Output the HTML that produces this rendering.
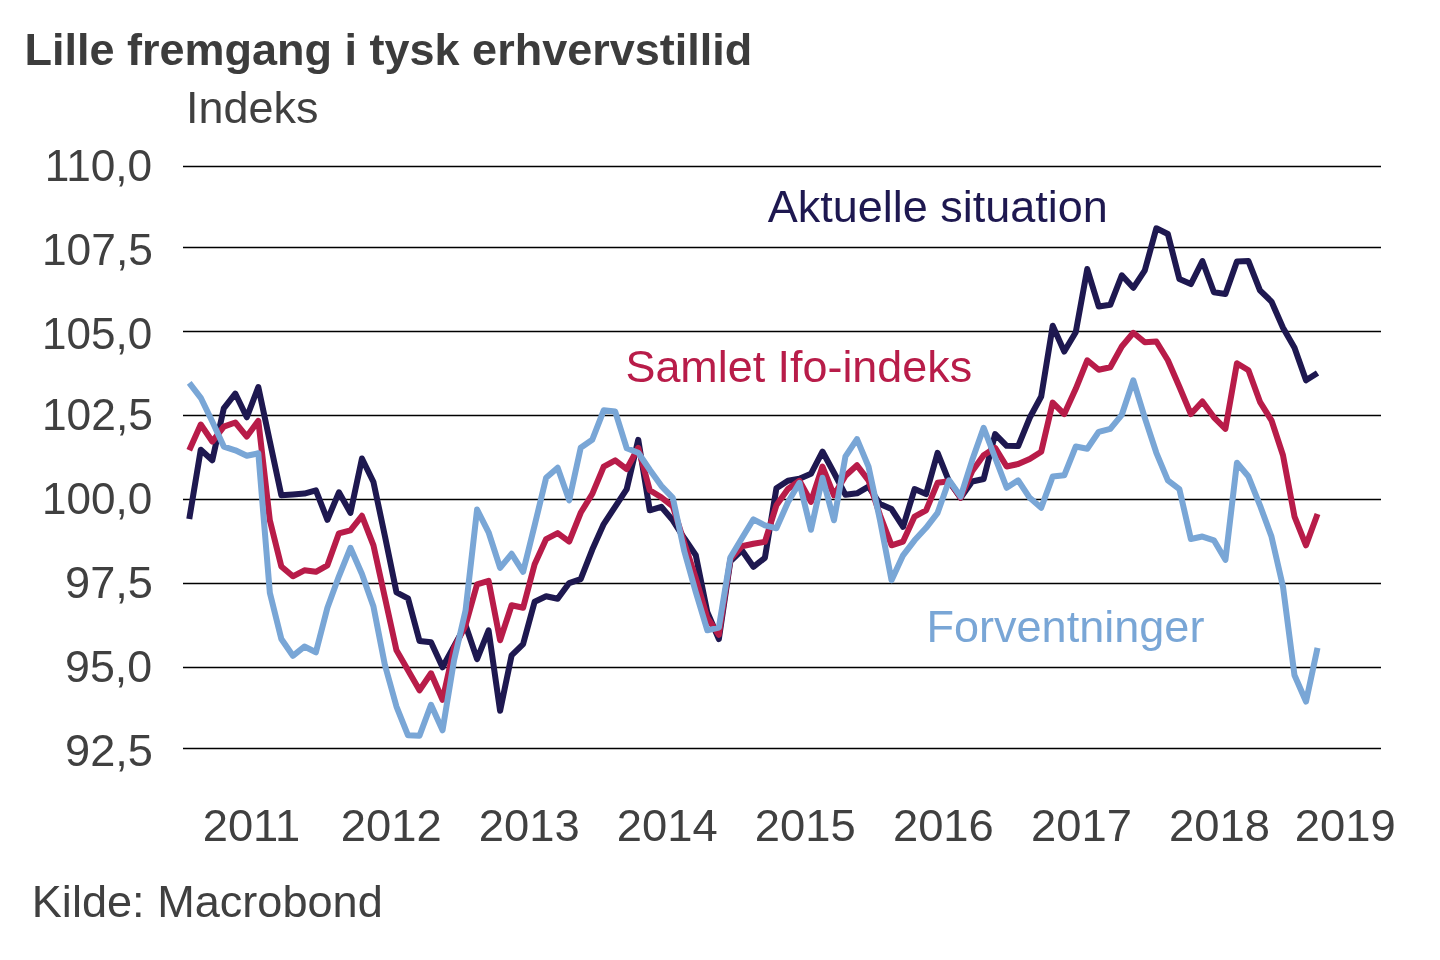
<!DOCTYPE html>
<html lang="da"><head><meta charset="utf-8"><title>Lille fremgang i tysk erhvervstillid</title>
<style>html,body{margin:0;padding:0;background:#fff;}body{width:1440px;height:960px;overflow:hidden;}svg{display:block;will-change:transform;}text{font-family:"Liberation Sans",Arial,Helvetica,sans-serif;}</style>
</head><body>
<svg width="1440" height="960" viewBox="0 0 1440 960">
<rect width="1440" height="960" fill="#ffffff"/>
<g stroke="#000000" stroke-width="1.5" fill="none">
<line x1="183" y1="166.5" x2="1381" y2="166.5"/>
<line x1="183" y1="247.5" x2="1381" y2="247.5"/>
<line x1="183" y1="331.5" x2="1381" y2="331.5"/>
<line x1="183" y1="415.5" x2="1381" y2="415.5"/>
<line x1="183" y1="499.5" x2="1381" y2="499.5"/>
<line x1="183" y1="583.5" x2="1381" y2="583.5"/>
<line x1="183" y1="667.5" x2="1381" y2="667.5"/>
<line x1="183" y1="748.5" x2="1381" y2="748.5"/>
</g>
<g fill="none" stroke-width="6" stroke-linejoin="round" stroke-linecap="butt">
<polyline stroke="#1e1850" points="189.25,519.05 200.76,449.70 212.28,460.30 223.79,408.30 235.30,393.55 246.81,417.30 258.33,387.05 269.84,441.30 281.35,495.30 292.87,494.55 304.38,493.55 315.89,490.30 327.41,519.80 338.92,492.30 350.43,512.80 361.94,458.55 373.46,482.05 384.97,536.30 396.48,592.30 408.00,598.30 419.51,641.00 431.02,642.30 442.54,667.30 454.05,646.30 465.56,625.30 477.07,659.05 488.59,630.30 500.10,710.80 511.61,655.30 523.13,644.05 534.64,601.80 546.15,596.30 557.67,598.80 569.18,583.05 580.69,579.05 592.20,549.80 603.72,524.05 615.23,506.55 626.74,489.05 638.26,439.80 649.77,510.30 661.28,506.80 672.80,520.30 684.31,538.30 695.82,555.30 707.34,612.30 718.85,639.05 730.36,561.30 741.87,550.30 753.39,566.80 764.90,557.80 776.41,488.30 787.93,480.80 799.44,478.80 810.95,473.80 822.47,451.55 833.98,472.80 845.49,494.80 857.00,493.30 868.52,486.55 880.03,504.05 891.54,509.05 903.06,526.80 914.57,489.05 926.08,494.05 937.60,452.80 949.11,481.55 960.62,497.80 972.13,481.55 983.65,479.05 995.16,434.05 1006.67,445.80 1018.19,446.05 1029.70,417.80 1041.21,396.55 1052.72,325.80 1064.24,351.55 1075.75,332.30 1087.26,269.05 1098.78,306.55 1110.29,304.80 1121.80,275.30 1133.32,287.80 1144.83,270.30 1156.34,228.30 1167.86,234.05 1179.37,279.05 1190.88,284.05 1202.39,261.05 1213.91,292.30 1225.42,294.05 1236.93,261.55 1248.45,261.05 1259.96,290.30 1271.47,301.55 1282.98,327.80 1294.50,347.80 1306.01,380.30 1317.52,372.90"/>
<polyline stroke="#b81c49" points="189.25,450.30 200.76,424.50 212.28,441.55 223.79,426.55 235.30,422.50 246.81,436.55 258.33,420.80 269.84,520.30 281.35,566.55 292.87,576.30 304.38,570.30 315.89,571.80 327.41,565.30 338.92,533.30 350.43,530.30 361.94,515.80 373.46,545.30 384.97,597.80 396.48,650.30 408.00,670.30 419.51,690.30 431.02,673.30 442.54,699.80 454.05,647.80 465.56,625.30 477.07,584.30 488.59,580.80 500.10,640.30 511.61,605.30 523.13,607.80 534.64,564.30 546.15,539.05 557.67,533.05 569.18,541.55 580.69,512.80 592.20,494.05 603.72,466.55 615.23,460.30 626.74,469.05 638.26,447.80 649.77,490.30 661.28,497.30 672.80,506.30 684.31,542.80 695.82,578.30 707.34,617.80 718.85,634.80 730.36,559.30 741.87,546.30 753.39,543.80 764.90,541.80 776.41,505.30 787.93,489.05 799.44,480.80 810.95,501.80 822.47,466.55 833.98,495.30 845.49,475.80 857.00,465.30 868.52,480.30 880.03,515.30 891.54,545.30 903.06,541.55 914.57,516.55 926.08,510.30 937.60,482.80 949.11,481.30 960.62,497.80 972.13,471.30 983.65,455.30 995.16,447.80 1006.67,466.55 1018.19,464.05 1029.70,459.05 1041.21,451.80 1052.72,402.55 1064.24,414.05 1075.75,388.80 1087.26,360.30 1098.78,369.80 1110.29,367.30 1121.80,346.55 1133.32,332.80 1144.83,342.30 1156.34,341.55 1167.86,360.30 1179.37,386.80 1190.88,414.05 1202.39,401.55 1213.91,417.30 1225.42,428.80 1236.93,363.30 1248.45,370.30 1259.96,401.80 1271.47,420.30 1282.98,455.30 1294.50,516.55 1306.01,545.30 1317.52,514.05"/>
<polyline stroke="#79a6d6" points="189.25,382.80 200.76,397.80 212.28,421.55 223.79,446.55 235.30,450.30 246.81,455.80 258.33,453.30 269.84,592.80 281.35,639.05 292.87,655.80 304.38,646.55 315.89,652.30 327.41,607.80 338.92,576.30 350.43,547.80 361.94,574.05 373.46,606.55 384.97,665.30 396.48,706.55 408.00,735.30 419.51,735.80 431.02,704.80 442.54,730.30 454.05,660.30 465.56,610.30 477.07,509.55 488.59,532.30 500.10,567.80 511.61,553.80 523.13,571.80 534.64,525.30 546.15,477.80 557.67,467.80 569.18,500.30 580.69,447.80 592.20,439.80 603.72,410.30 615.23,411.55 626.74,448.30 638.26,452.80 649.77,469.80 661.28,485.80 672.80,497.80 684.31,551.30 695.82,592.30 707.34,630.30 718.85,627.55 730.36,557.55 741.87,538.30 753.39,519.30 764.90,525.30 776.41,528.30 787.93,502.30 799.44,482.80 810.95,529.80 822.47,477.80 833.98,520.30 845.49,456.30 857.00,439.05 868.52,466.55 880.03,520.30 891.54,580.30 903.06,555.30 914.57,540.30 926.08,527.80 937.60,512.80 949.11,480.30 960.62,496.55 972.13,460.30 983.65,427.80 995.16,457.80 1006.67,487.80 1018.19,480.30 1029.70,497.80 1041.21,507.80 1052.72,476.55 1064.24,475.30 1075.75,446.55 1087.26,448.80 1098.78,431.80 1110.29,428.80 1121.80,414.80 1133.32,380.30 1144.83,417.80 1156.34,452.80 1167.86,480.30 1179.37,489.05 1190.88,539.05 1202.39,536.55 1213.91,540.30 1225.42,559.80 1236.93,462.80 1248.45,476.55 1259.96,505.30 1271.47,536.55 1282.98,586.55 1294.50,675.30 1306.01,701.55 1317.52,647.80"/>
</g>
<text transform="translate(24.49,65.20) scale(1.0000,1)" font-size="45.0" font-weight="bold" fill="#3c3c3c">Lille fremgang i tysk erhvervstillid</text>
<text transform="translate(186.09,122.70) scale(0.9980,1)" font-size="45.0" fill="#404040">Indeks</text>
<text transform="translate(31.78,916.90) scale(1.0024,1)" font-size="45.0" fill="#404040">Kilde: Macrobond</text>
<text transform="translate(767.80,221.90) scale(0.9995,1)" font-size="45.0" fill="#1e1850">Aktuelle situation</text>
<text transform="translate(625.50,382.20) scale(0.9973,1)" font-size="45.0" fill="#b81c49">Samlet Ifo-indeks</text>
<text transform="translate(926.48,641.90) scale(1.0011,1)" font-size="45.0" fill="#79a6d6">Forventninger</text>
<text transform="translate(202.67,841.40) scale(1.0080,1)" font-size="45.0" fill="#404040">2011</text>
<text transform="translate(340.72,841.40) scale(1.0080,1)" font-size="45.0" fill="#404040">2012</text>
<text transform="translate(478.77,841.40) scale(1.0080,1)" font-size="45.0" fill="#404040">2013</text>
<text transform="translate(616.82,841.40) scale(1.0080,1)" font-size="45.0" fill="#404040">2014</text>
<text transform="translate(754.87,841.40) scale(1.0080,1)" font-size="45.0" fill="#404040">2015</text>
<text transform="translate(892.92,841.40) scale(1.0080,1)" font-size="45.0" fill="#404040">2016</text>
<text transform="translate(1030.97,841.40) scale(1.0080,1)" font-size="45.0" fill="#404040">2017</text>
<text transform="translate(1169.02,841.40) scale(1.0080,1)" font-size="45.0" fill="#404040">2018</text>
<text transform="translate(1294.77,841.40) scale(1.0080,1)" font-size="45.0" fill="#404040">2019</text>
<text transform="translate(44.84,181.00) scale(0.9826,1)" font-size="45.0" fill="#404040">110,0</text>
<text transform="translate(41.93,265.00) scale(0.9854,1)" font-size="45.0" fill="#404040">107,5</text>
<text transform="translate(41.95,349.00) scale(0.9791,1)" font-size="45.0" fill="#404040">105,0</text>
<text transform="translate(41.93,430.00) scale(0.9854,1)" font-size="45.0" fill="#404040">102,5</text>
<text transform="translate(41.95,514.00) scale(0.9791,1)" font-size="45.0" fill="#404040">100,0</text>
<text transform="translate(65.08,598.00) scale(1.0030,1)" font-size="45.0" fill="#404040">97,5</text>
<text transform="translate(65.10,682.00) scale(0.9946,1)" font-size="45.0" fill="#404040">95,0</text>
<text transform="translate(65.08,765.80) scale(1.0030,1)" font-size="45.0" fill="#404040">92,5</text>
</svg>
</body></html>
